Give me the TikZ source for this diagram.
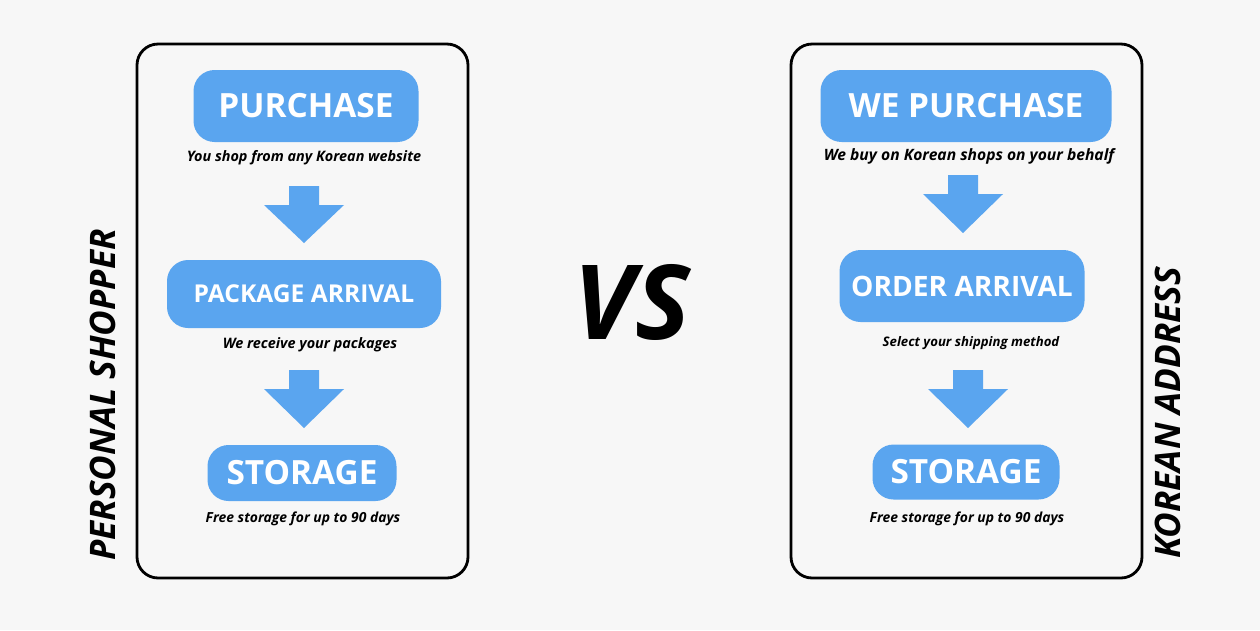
\documentclass[tikz,border=0pt]{standalone}
\usepackage{fontspec}
\setmainfont{Open Sans}
\usetikzlibrary{positioning}
\definecolor{stepblue}{HTML}{5AA5EF}
\definecolor{paper}{HTML}{F7F7F7}
\tikzset{
  frame/.style={draw=black, line width=1.6pt, rounded corners=12pt, fill=paper},
  stage/.style={fill=stepblue, rounded corners=12pt, text=white, font=\bfseries\fontsize{19}{21}\selectfont, inner sep=0pt},
  note/.style={font=\bfseries\itshape\fontsize{8.2}{10}\selectfont},
  side/.style={font=\bfseries\itshape\fontsize{20}{22}\selectfont, rotate=90},
  down/.style={fill=stepblue}
}
\newcommand{\blockarrow}[3]{% x, top y, bottom y
  \fill[down] (#1-15,#2) -- (#1+15,#2) -- (#1+15,#2+19) -- (#1+40,#2+19)
    -- (#1,#3) -- (#1-40,#2+19) -- (#1-15,#2+19) -- cycle;}
\begin{document}
\begin{tikzpicture}[x=0.02cm, y=-0.02cm]
\fill[paper] (0,0) rectangle (1260,630);

% left panel
\draw[frame] (137,44) rectangle (468,578);
\node[stage, minimum width=225*0.02cm, minimum height=72*0.02cm] (purchase) at (306,106) {PURCHASE};
\node[note] (shop) at (304,158) {You shop from any Korean website};
\blockarrow{304}{186}{243}
\node[stage, minimum width=274*0.02cm, minimum height=68*0.02cm, font=\bfseries\fontsize{14}{16}\selectfont] (arrival) at (304,294) {PACKAGE ARRIVAL};
\node[note] (receive) at (310,345) {We receive your packages};
\blockarrow{304}{370}{428}
\node[stage, minimum width=189*0.02cm, minimum height=56*0.02cm] (storage) at (302,473) {STORAGE};
\node[note, font=\bfseries\itshape\fontsize{7.9}{9}\selectfont] (free) at (303,519) {Free storage for up to 90 days};
\node[side] (shopper) at (103,395) {PERSONAL SHOPPER};

% middle
\node[font=\bfseries\itshape\fontsize{59}{63}\selectfont] (vs) at (632,302) {VS};

% right panel
\draw[frame] (791,44) rectangle (1142,578);
\node[stage, minimum width=291*0.02cm, minimum height=72*0.02cm] (wepurchase) at (966,106) {WE PURCHASE};
\node[note, font=\bfseries\itshape\fontsize{8.9}{10}\selectfont] (buy) at (969,156) {We buy on Korean shops on your behalf};
\blockarrow{963}{175}{233}
\node[stage, minimum width=245*0.02cm, minimum height=72*0.02cm, font=\bfseries\fontsize{16}{18}\selectfont] (order) at (962,286) {ORDER ARRIVAL};
\node[note, font=\bfseries\itshape\fontsize{7.5}{9}\selectfont] (select) at (971,343) {Select your shipping method};
\blockarrow{968}{370}{428}
\node[stage, minimum width=187*0.02cm, minimum height=55*0.02cm] (storage2) at (966,472) {STORAGE};
\node[note, font=\bfseries\itshape\fontsize{7.9}{9}\selectfont] (free2) at (967,519) {Free storage for up to 90 days};
\node[side] (address) at (1168,413) {KOREAN ADDRESS};
\end{tikzpicture}
\end{document}
